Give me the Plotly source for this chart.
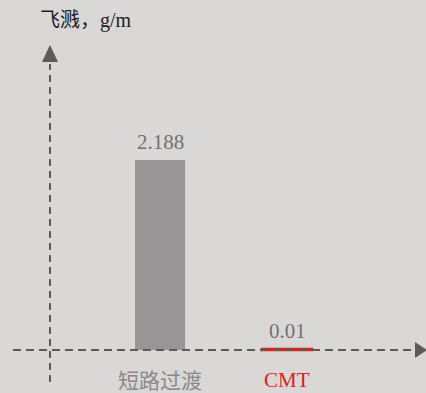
import plotly.graph_objects as go

categories = ["短路过渡", "CMT"]
values = [2.188, 0.01]
value_labels = ["2.188", "0.01"]
bar_colors = ["#979595", "#d9231f"]
label_colors = ["#8a8888", "#d9231f"]
y_title = "飞溅，g/m"

W, H = 426, 393
BG = "#d9d8d6"
AXIS = "#5c5b5a"

fig = go.Figure()
fig.add_trace(go.Bar(
    x=categories, y=values, width=0.394,
    marker=dict(color=bar_colors, line=dict(color=bar_colors, width=[0, 2.6])),
    hoverinfo="skip",
))

# value labels above bars
for c, v, t in zip(categories, values, value_labels):
    fig.add_annotation(x=c, y=v, text=t, showarrow=False, yanchor="bottom", yshift=4,
                       font=dict(family="Liberation Serif, serif", size=21, color="#727170"))

# category labels under the x axis
for c, col, fam, yy in zip(categories, label_colors,
                           ["Noto Sans CJK SC", "Liberation Serif, serif"], [-0.33, -0.35]):
    fig.add_annotation(x=c, y=yy, text=c, showarrow=False, yanchor="middle",
                       font=dict(family=fam, size=21, color=col))

# dashed axes with arrow heads
def px(xp):
    return xp / W

def py(yp):
    return 1 - yp / H

shapes = [
    dict(type="line", xref="paper", yref="paper", x0=px(50), x1=px(50), y0=py(382), y1=py(64),
         line=dict(color=AXIS, width=2, dash="7px,5px")),
    dict(type="line", xref="paper", yref="paper", x0=px(13), x1=px(415), y0=py(350), y1=py(350),
         line=dict(color=AXIS, width=2, dash="8px,5px")),
    dict(type="path", xref="paper", yref="paper",
         path=f"M {px(42)} {py(62)} L {px(58)} {py(62)} L {px(50)} {py(45)} Z",
         fillcolor=AXIS, line=dict(width=0)),
    dict(type="path", xref="paper", yref="paper",
         path=f"M {px(415)} {py(342)} L {px(415)} {py(358)} L {px(427)} {py(350)} Z",
         fillcolor=AXIS, line=dict(width=0)),
]

fig.add_annotation(xref="paper", yref="paper", x=px(38), y=py(20), xanchor="left", yanchor="middle",
                   text=y_title, showarrow=False,
                   font=dict(family="Liberation Serif, Noto Sans CJK SC", size=20, color="#1e1e1e"))

fig.update_layout(
    width=W, height=H, margin=dict(l=0, r=0, t=0, b=0),
    paper_bgcolor=BG, plot_bgcolor=BG, showlegend=False, shapes=shapes,
    xaxis=dict(range=[-1.26, 2.094], visible=False, fixedrange=True),
    yaxis=dict(range=[-0.495, 4.030], visible=False, fixedrange=True),
)

fig.write_html("out.html")
